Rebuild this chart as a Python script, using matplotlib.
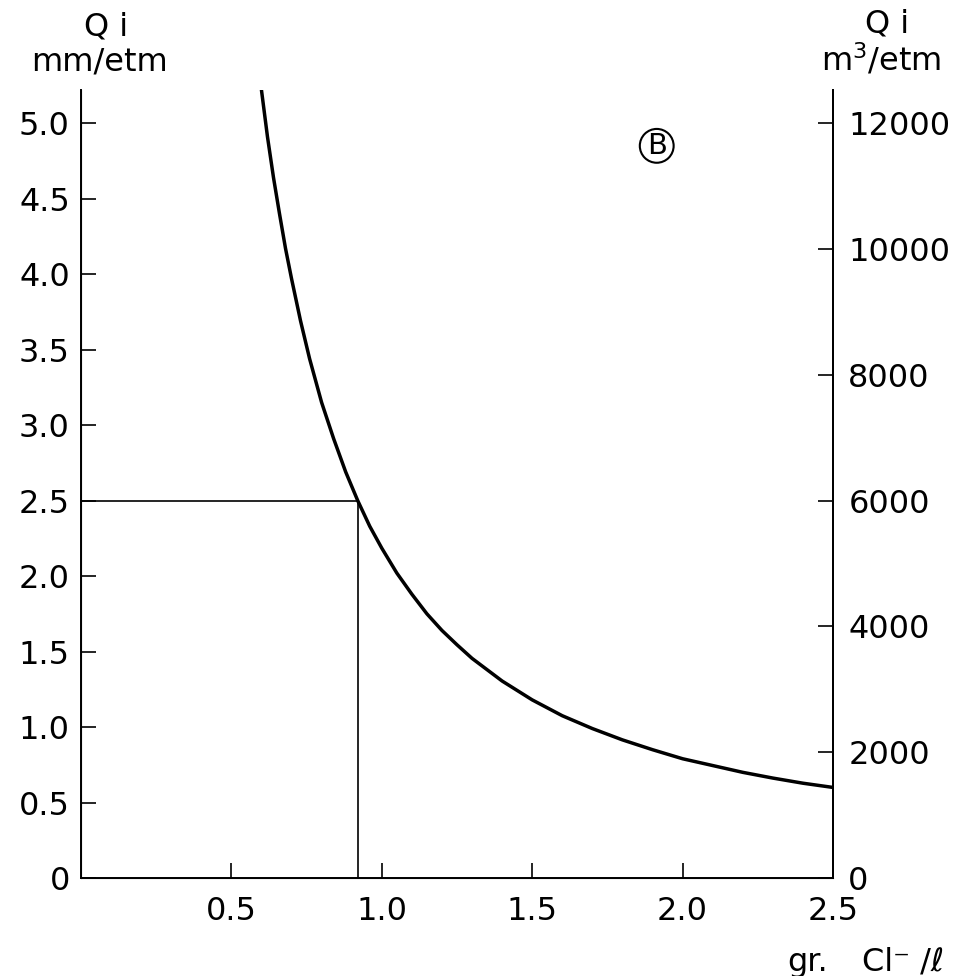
import matplotlib
matplotlib.use("Agg")
import matplotlib.pyplot as plt

# chloride concentration (gr Cl-/l) vs Qi (mm/etm)
cl = [0.60, 0.62, 0.64, 0.66, 0.68, 0.70, 0.73, 0.76, 0.80, 0.84, 0.88, 0.92,
      0.96, 1.00, 1.05, 1.10, 1.15, 1.20, 1.25, 1.30, 1.40, 1.50, 1.60, 1.70,
      1.80, 1.90, 2.00, 2.10, 2.20, 2.30, 2.40, 2.50]
qi = [5.22, 4.91, 4.64, 4.40, 4.17, 3.97, 3.69, 3.44, 3.15, 2.91, 2.69, 2.50,
      2.33, 2.185, 2.02, 1.88, 1.75, 1.64, 1.545, 1.455, 1.305, 1.18, 1.075, 0.99,
      0.915, 0.85, 0.79, 0.745, 0.70, 0.662, 0.628, 0.60]

# reading for Qi = 2.5 mm/etm
cl_read = 0.92
qi_read = 2.5

x_ticks = [0.5, 1.0, 1.5, 2.0, 2.5]
x_labels = ["0.5", "1.0", "1.5", "2.0", "2.5"]
y_ticks = [0, 0.5, 1.0, 1.5, 2.0, 2.5, 3.0, 3.5, 4.0, 4.5, 5.0]
y_labels = ["0", "0.5", "1.0", "1.5", "2.0", "2.5", "3.0", "3.5", "4.0", "4.5", "5.0"]
r_ticks = [0, 2000, 4000, 6000, 8000, 10000, 12000]
m3_per_mm = 2400  # m3/etm per mm/etm

plt.rcParams['font.family'] = ['DejaVu Sans']
fs = 23

fig = plt.figure(figsize=(9.72, 9.76), dpi=100)
ax = fig.add_axes([0.0833, 0.1004, 0.857 - 0.0833, 0.9078 - 0.1004])

ax.plot(cl, qi, color='black', lw=2.5, solid_capstyle='round')
ax.plot([0, cl_read, cl_read], [qi_read, qi_read, 0], color='black', lw=1.2)

ax.set_xlim(0, 2.5)
ax.set_ylim(0, 5.22)
ax.spines['top'].set_visible(False)
for s in ['left', 'bottom', 'right']:
    ax.spines[s].set_linewidth(1.4)

ax.set_xticks(x_ticks)
ax.set_xticklabels(x_labels)
ax.set_yticks(y_ticks)
ax.set_yticklabels(y_labels)
ax.tick_params(axis='x', direction='in', length=11, width=1.2, pad=13, labelsize=fs)
ax.tick_params(axis='y', direction='in', length=11, width=1.2, pad=8, labelsize=fs)

# second scale in m3/etm
ax2 = ax.twinx()
ax2.set_ylim(0, 5.22 * m3_per_mm)
ax2.set_yticks(r_ticks)
ax2.set_yticklabels([str(t) for t in r_ticks])
ax2.spines['top'].set_visible(False)
ax2.spines['right'].set_linewidth(1.4)
ax2.tick_params(axis='y', direction='in', length=11, width=1.2, pad=11, labelsize=fs)

ax.text(1.914, 4.85, "B", fontsize=21, ha='center', va='center',
        bbox=dict(boxstyle='circle,pad=0.1', fc='white', ec='black', lw=1.5))

# axis titles
fig.text(106 / 972, 1 - 27 / 976, "Q i", fontsize=fs, ha='center', va='center')
fig.text(99 / 972, 1 - 62 / 976, "mm/etm", fontsize=fs, ha='center', va='center')
fig.text(887 / 972, 1 - 24 / 976, "Q i", fontsize=fs, ha='center', va='center')
fig.text(881 / 972, 1 - 60 / 976, "m$^3$/etm", fontsize=fs, ha='center', va='center')
fig.text(787 / 972, 1 - 962 / 976, "gr.", fontsize=fs, ha='left', va='center')
fig.text(862 / 972, 1 - 962 / 976, "Cl\u207b /\u2113", fontsize=fs, ha='left', va='center')

plt.savefig("out.png", dpi=100)
